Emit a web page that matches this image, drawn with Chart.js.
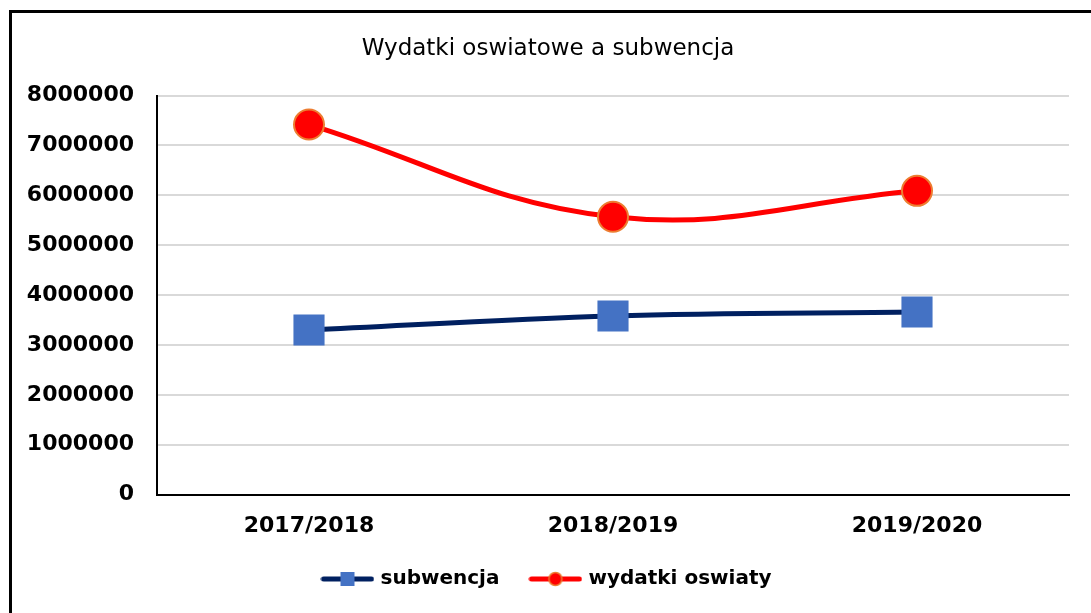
<!DOCTYPE html>
<html>
<head>
<meta charset="utf-8">
<script src="https://cdn.jsdelivr.net/npm/chart.js@4.4.1/dist/chart.umd.min.js"></script>
<style>
  html, body { margin: 0; padding: 0; background: #fff; overflow: hidden; }
  #wrap { position: relative; width: 1091px; height: 613px; }
  #frame {
    position: absolute; left: 9px; top: 10px; width: 1200px; height: 700px;
    border-left: 3px solid #000; border-top: 3px solid #000; box-sizing: border-box;
  }
  canvas { position: absolute; left: 0; top: 0; }
</style>
</head>
<body>
<div id="wrap">
  <div id="frame"></div>
  <canvas id="chart" width="1091" height="613"></canvas>
</div>
<script>
const categories = ["2017/2018", "2018/2019", "2019/2020"];
const subwencja = [3300000, 3580000, 3660000];
const wydatkiOswiaty = [7420000, 5570000, 6090000];
const yTicks = [0, 1000000, 2000000, 3000000, 4000000, 5000000, 6000000, 7000000, 8000000];

const navy = "#002060";
const blue = "#4472C4";
const red = "#FF0000";
const orange = "#ED7D31";

// legend icons: a short line with the marker on it
function legendIcon(lineColor, drawMarker) {
  const c = document.createElement("canvas");
  c.width = 54;
  c.height = 18;
  const ctx = c.getContext("2d");
  ctx.strokeStyle = lineColor;
  ctx.lineWidth = 5;
  ctx.lineCap = "round";
  ctx.beginPath();
  ctx.moveTo(3, 9);
  ctx.lineTo(51, 9);
  ctx.stroke();
  drawMarker(ctx);
  return c;
}

const blueIcon = legendIcon(navy, ctx => {
  ctx.fillStyle = blue;
  ctx.fillRect(20, 2, 14, 14);
});
const redIcon = legendIcon(red, ctx => {
  ctx.fillStyle = red;
  ctx.strokeStyle = orange;
  ctx.lineWidth = 1.5;
  ctx.beginPath();
  ctx.arc(27, 9, 6.5, 0, Math.PI * 2);
  ctx.fill();
  ctx.stroke();
});

new Chart(document.getElementById("chart"), {
  type: "line",
  data: {
    labels: categories,
    datasets: [
      {
        label: "subwencja",
        data: subwencja,
        borderColor: navy,
        backgroundColor: blue,
        borderWidth: 5,
        tension: 0.35,
        pointStyle: "rect",
        pointRadius: 22,
        pointBorderWidth: 0,
        pointBackgroundColor: blue,
        pointHoverRadius: 22
      },
      {
        label: "wydatki oswiaty",
        data: wydatkiOswiaty,
        borderColor: red,
        backgroundColor: red,
        borderWidth: 5,
        tension: 0.4,
        pointStyle: "circle",
        pointRadius: 15,
        pointBorderWidth: 2,
        pointBorderColor: orange,
        pointBackgroundColor: red,
        pointHoverRadius: 15
      }
    ]
  },
  options: {
    responsive: false,
    animation: false,
    layout: {
      padding: { left: 24, right: 19, top: 20, bottom: 14 }
    },
    plugins: {
      title: {
        display: true,
        text: "Wydatki oswiatowe a subwencja",
        color: "#000",
        font: { family: "DejaVu Sans", size: 23, weight: "normal" },
        padding: { top: 15, bottom: 33 }
      },
      legend: {
        position: "bottom",
        labels: {
          color: "#000",
          font: { family: "DejaVu Sans", size: 20, weight: "bold" },
          usePointStyle: true,
          pointStyleWidth: 46,
          boxHeight: 18,
          padding: 33,
          generateLabels: chart => chart.data.datasets.map((ds, i) => ({
            text: ds.label,
            pointStyle: i === 0 ? blueIcon : redIcon,
            fillStyle: ds.backgroundColor,
            strokeStyle: ds.borderColor,
            lineWidth: 0,
            hidden: false,
            datasetIndex: i
          }))
        }
      },
      tooltip: { enabled: false }
    },
    scales: {
      x: {
        offset: true,
        grid: { display: false, drawTicks: false },
        border: { color: "#000", width: 2 },
        afterFit: scale => {
          scale.height = scale.height - 21;
        },
        ticks: {
          color: "#000",
          padding: 18,
          font: { family: "DejaVu Sans", size: 22, weight: "bold" }
        }
      },
      y: {
        min: 0,
        max: 8000000,
        afterBuildTicks: scale => {
          scale.ticks = yTicks.map(v => ({ value: v }));
        },
        afterFit: scale => {
          scale.width = 133;
        },
        grid: { color: "#d9d9d9", lineWidth: 2, drawTicks: false },
        border: { color: "#000", width: 2 },
        ticks: {
          color: "#000",
          padding: 23,
          font: { family: "DejaVu Sans", size: 22, weight: "bold" },
          callback: v => String(v)
        }
      }
    }
  }
});
</script>
</body>
</html>
